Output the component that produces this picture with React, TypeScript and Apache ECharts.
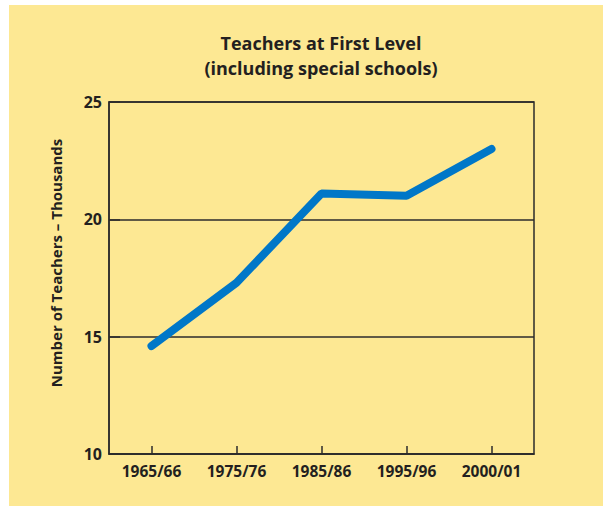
import React, { useEffect, useRef } from "react";
import * as echarts from "echarts";

const categories = ["1965/66", "1975/76", "1985/86", "1995/96", "2000/01"];
const teachers = [14.6, 17.3, 21.1, 21.0, 23.0];
const yTicks = { min: 10, max: 25, interval: 5 };

const INK = "#231f20";
const LINE = "#2b2b2b";
const FONT = "'Open Sans', 'DejaVu Sans', sans-serif";

export default function App() {
  const ref = useRef<HTMLDivElement>(null);
  useEffect(() => {
    if (!ref.current) return;
    const chart = echarts.init(ref.current, undefined, { renderer: "svg" });
    chart.setOption({
      animation: false,
      backgroundColor: "#fde893",
      title: {
        text: "Teachers at First Level\n(including special schools)",
        left: 307,
        top: 20,
        textAlign: "center",
        textStyle: {
          fontFamily: FONT,
          fontSize: 18,
          fontWeight: "bold",
          lineHeight: 25,
          color: INK,
        },
      },
      graphic: [
        {
          type: "text",
          x: 47,
          y: 258,
          rotation: Math.PI / 2,
          style: {
            text: "Number of Teachers – Thousands",
            fontFamily: FONT,
            fontSize: 15,
            fontWeight: "bold",
            fill: INK,
            align: "center",
            verticalAlign: "middle",
          },
        },
      ],
      grid: {
        left: 100,
        top: 97,
        width: 425,
        height: 352,
        show: true,
        borderColor: LINE,
        borderWidth: 1.5,
        backgroundColor: "transparent",
      },
      xAxis: {
        type: "category",
        data: categories,
        boundaryGap: true,
        axisLine: { show: true, lineStyle: { color: LINE, width: 1.5 } },
        axisTick: {
          show: true,
          inside: true,
          alignWithLabel: true,
          length: 8,
          lineStyle: { color: LINE, width: 1.5 },
        },
        axisLabel: {
          margin: 9,
          fontFamily: FONT,
          fontSize: 15.5,
          fontWeight: "bold",
          color: INK,
        },
        splitLine: { show: false },
      },
      yAxis: {
        type: "value",
        min: yTicks.min,
        max: yTicks.max,
        interval: yTicks.interval,
        axisLine: { show: true, lineStyle: { color: LINE, width: 1.5 } },
        axisTick: {
          show: true,
          inside: true,
          length: 11,
          lineStyle: { color: LINE, width: 1.5 },
        },
        axisLabel: {
          margin: 7,
          fontFamily: FONT,
          fontSize: 16,
          fontWeight: "bold",
          color: INK,
        },
        splitLine: { show: true, lineStyle: { color: LINE, width: 1.5 } },
      },
      series: [
        {
          type: "line",
          data: teachers,
          symbol: "none",
          lineStyle: { color: "#0077c8", width: 8, cap: "round" },
        },
      ],
    });
    return () => chart.dispose();
  }, []);
  return (
    <div style={{ position: "absolute", left: 0, top: 0, width: 603, height: 506, background: "#ffffff" }}>
      <div ref={ref} style={{ position: "absolute", left: 9, top: 5, width: 594, height: 501 }} />
    </div>
  );
}
